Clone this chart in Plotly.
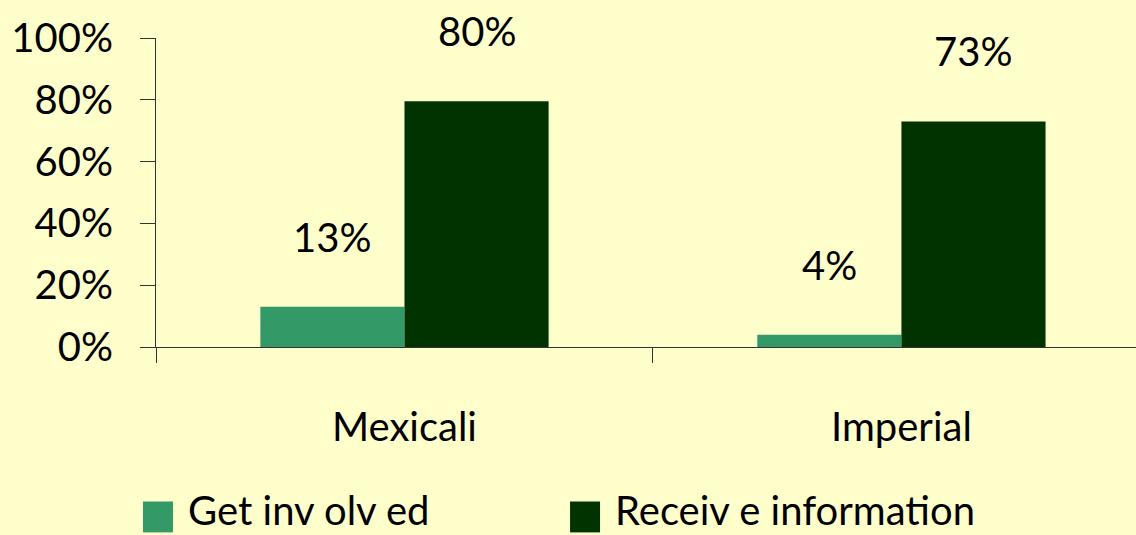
import plotly.graph_objects as go

regioes = ['Mexicali', 'Imperial']
series = ['Get inv olv ed', 'Receiv e information']
get_involved = [13, 4]
receive_info = [79.5, 73]
rotulos_gi = ['13%', '4%']
rotulos_ri = ['80%', '73%']
cores = ['#339966', '#003300']

fonte = dict(family='Lato, sans-serif', size=40, color='black')

fig = go.Figure()
fig.add_trace(go.Bar(x=regioes, y=get_involved, name=series[0], marker_color=cores[0],
                     marker_line_width=0))
fig.add_trace(go.Bar(x=regioes, y=receive_info, name=series[1], marker_color=cores[1],
                     marker_line_width=0))

# rotulos bem acima das barras, como no original
anotacoes = []
for i, reg in enumerate(regioes):
    for valor, texto, desloc in [(get_involved[i], rotulos_gi[i], -0.145),
                                 (receive_info[i], rotulos_ri[i], 0.145)]:
        anotacoes.append(dict(x=i + desloc, y=valor, text=texto, showarrow=False,
                              yshift=70, yanchor='middle', font=fonte))

# legenda feita a mao (quadrados grandes como no original)
legenda_x = [-0.0133, 0.4225]
formas = []
for nome, cor, lx in zip(series, cores, legenda_x):
    formas.append(dict(type='rect', xref='paper', yref='paper',
                       x0=lx, x1=lx + 30 / 980, y0=-0.50, y1=-0.60,
                       fillcolor=cor, line_width=0))
    anotacoes.append(dict(xref='paper', yref='paper', x=lx + 44 / 980, y=-0.528,
                          xanchor='left', yanchor='middle', text=nome,
                          showarrow=False, font=fonte, borderpad=0))

fig.update_layout(
    width=1136, height=535,
    paper_bgcolor='#FFFFCC', plot_bgcolor='#FFFFCC',
    margin=dict(l=156, r=0, t=38, b=188),
    barmode='group', bargap=0.42, bargroupgap=0,
    font=fonte,
    showlegend=False,
    annotations=anotacoes,
    shapes=formas,
)
fig.update_xaxes(range=[-0.5, 1.472], showline=True, linecolor='#333', linewidth=1,
                 ticks='outside', tickson='boundaries', ticklen=15, tickcolor='#333',
                 ticklabelstandoff=45, showgrid=False, zeroline=False)
fig.update_yaxes(range=[0, 100], dtick=20, ticksuffix='%', showline=True, linecolor='#333',
                 linewidth=1, ticks='outside', ticklen=15, tickcolor='#333',
                 ticklabelstandoff=19, showgrid=False, zeroline=False)

fig.write_html('out.html', config={'displayModeBar': False},
               post_script="document.body.style.margin='0';"
                           "document.body.style.background='#FFFFCC';")
